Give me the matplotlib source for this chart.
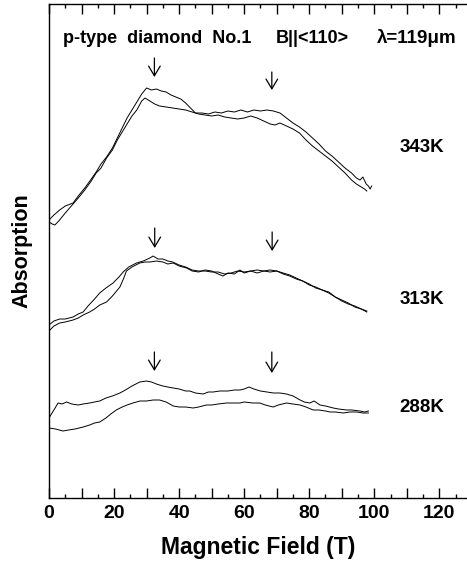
import matplotlib
matplotlib.use('Agg')
import matplotlib.pyplot as plt
from matplotlib.ticker import MultipleLocator

plt.rcParams['font.family'] = ['Liberation Sans', 'DejaVu Sans']
plt.rcParams['font.weight'] = 'bold'

# absorption traces (arb. units), two sweeps per temperature
b_343_a = [0, 1.5, 3.3, 5, 7.4, 9, 11, 13, 14.5, 16, 17.7, 19.5, 21, 22.5, 24, 25.5, 27, 28.5, 30,
           31.5, 33, 34.5, 36, 37.5, 39, 40.5, 42, 43.5, 45, 47, 49, 51, 53, 55, 57, 59, 61, 63, 65,
           67, 69, 71, 73, 75, 77, 79, 81, 83, 85, 87, 89, 91, 93, 94.5, 95.6, 96.5, 97.5, 98.2, 98.7, 99.2]
abs_343_a = [278, 283, 288, 292, 295, 302, 310, 319, 326, 334, 341, 350, 360, 370, 380, 388, 396, 404, 410,
             408, 409, 407, 406, 403, 401, 399, 395, 390, 385, 385, 384, 386, 385, 387, 386, 388, 386, 388, 387,
             388, 387, 385, 380, 375, 371, 366, 360, 354, 347, 342, 336, 330, 325, 320, 318, 321, 314, 312, 309, 312]
b_343_b = [0, 1, 1.8, 3, 5, 7.4, 9, 11, 13, 14.5, 16, 17.7, 19.5, 21, 22.5, 24, 25.5, 27, 28.5, 29.5,
           31, 32.5, 34, 36, 38, 40, 42, 44, 46, 48, 50, 52, 54, 56, 58, 60, 62, 64, 66, 68, 69.5, 71,
           73, 75, 77, 79, 81, 83, 85, 87, 89, 91, 93, 94.5, 96, 97, 97.7]
abs_343_b = [276, 274, 273, 277, 285, 294, 300, 308, 317, 325, 330, 340, 348, 358, 366, 374, 382, 388, 397, 400,
             397, 394, 392, 391, 390, 389, 388, 386, 384, 383, 382, 383, 381, 380, 379, 380, 382, 380, 377, 374, 373, 375,
             372, 369, 365, 358, 352, 347, 342, 337, 331, 325, 318, 314, 311, 309, 307]

b_313_a = [0, 1.5, 3.3, 5, 7.4, 9, 10.5, 12, 14, 15.6, 17.5, 19.7, 21.5, 22.8, 24.5, 26.9, 29, 31, 32,
           33.5, 35, 36.5, 38, 40, 42, 44, 46, 48, 50, 52, 54, 56, 58, 60, 62, 64, 66, 68, 70, 72, 74,
           76, 78, 80, 82, 84, 86, 88, 90, 92, 94, 96, 97.7]
abs_313_a = [173, 177, 179, 179, 181, 184, 186, 192, 199, 205, 210, 215, 221, 226, 231, 235, 237, 240, 242,
             239, 239, 237, 236, 233, 231, 228, 227, 227, 226, 226, 224, 225, 227, 226, 227, 228, 227, 228, 227, 225, 223,
             220, 217, 214, 210, 208, 205, 201, 198, 195, 191, 189, 186]
b_313_b = [0, 1.5, 3.3, 5, 7.4, 9, 10.5, 12.5, 14, 15.6, 17.7, 19.5, 21.8, 23, 23.8, 25.5, 27.9, 29.5, 31,
           33, 35, 36.5, 38.2, 40, 42.3, 44, 46, 48, 50, 52, 53.5, 55, 57, 58.7, 60, 62, 64, 66, 68, 70,
           72, 74, 76, 78, 80, 82, 84, 86, 88, 90, 92, 94, 96, 97.7]
abs_313_b = [167, 172, 175, 176, 178, 180, 183, 186, 189, 193, 196, 202, 211, 220, 227, 231, 235, 236, 236,
             237, 236, 234, 235, 232, 230, 227, 226, 228, 227, 224, 222, 225, 224, 228, 225, 227, 225, 227, 226, 227,
             224, 222, 219, 217, 213, 211, 208, 206, 201, 197, 194, 192, 189, 187]

b_288_a = [0, 1.5, 2.8, 4, 5.4, 7, 9, 10.5, 12.5, 14, 15.6, 17.5, 19.5, 21.8, 23.5, 25.5, 27.9, 30, 31.5,
           33, 35, 36.5, 38.2, 40, 42, 43.3, 45, 47.4, 49, 50.5, 52.5, 55, 57, 58.7, 60, 61.5, 63, 65, 67,
           69, 71, 73, 75, 77.2, 78.5, 80.2, 81.5, 83.3, 85, 87.4, 89, 91.5, 93, 95.6, 97, 98.2]
abs_288_a = [80, 88, 95, 94, 96, 94, 93, 94, 95, 96, 97, 100, 102, 105, 108, 112, 116, 117, 116,
             114, 112, 111, 110, 109, 107, 107, 105, 104, 106, 106, 107, 107, 108, 108, 109, 111, 109, 107, 106,
             105, 105, 104, 102, 98, 96, 95, 97, 93, 92, 90, 89, 88, 88, 87, 86, 87]
b_288_b = [0, 2, 4.3, 6, 8, 10.5, 12.5, 14, 15.6, 17.5, 19, 20.7, 22.5, 24, 25.8, 28, 30, 32, 34, 36,
           38.2, 40, 42, 44.3, 46, 48.4, 50, 52, 54.6, 56.5, 58.7, 60, 62.7, 64.8, 66.5, 68.9, 70.5, 73,
           75, 77.2, 79, 81.2, 83, 85, 86.4, 88, 90.5, 92.5, 94.6, 96.5, 98.2]
abs_288_b = [70, 69, 67, 68, 69, 71, 73, 75, 76, 80, 84, 88, 91, 93, 95, 97, 97, 98, 98, 96,
             92, 91, 91, 90, 91, 93, 93, 94, 95, 95, 95, 96, 95, 95, 93, 91, 93, 95,
             94, 93, 91, 88, 88, 87, 86, 86, 85, 86, 86, 85, 85]

temps = ['343K', '313K', '288K']
temp_label_y = [351, 198, 90]
# arrow markers: field position, tail and tip level
arrow_b = [32.4, 68.5, 32.5, 68.6, 32.4, 68.5]
arrow_tail = [440, 426, 270, 266, 146, 146]
arrow_tip = [421, 408, 250, 247, 127, 125]

fig = plt.figure(figsize=(4.67, 5.67), dpi=100)
ax = fig.add_axes([49 / 467, 69 / 567, 1 - 49 / 467, 494 / 567])

for b, a in [(b_343_a, abs_343_a), (b_343_b, abs_343_b), (b_313_a, abs_313_a),
             (b_313_b, abs_313_b), (b_288_a, abs_288_a), (b_288_b, abs_288_b)]:
    ax.plot(b, a, color='black', lw=0.7)

for t, y in zip(temps, temp_label_y):
    ax.text(114.7, y, t, fontsize=13.5, fontweight='bold', ha='center', va='center')

for x, y0, y1 in zip(arrow_b, arrow_tail, arrow_tip):
    ax.annotate('', xy=(x, y1), xytext=(x, y0),
                arrowprops=dict(arrowstyle='->,head_length=0.5,head_width=0.3',
                                lw=0.9, color='black', mutation_scale=14, shrinkA=0, shrinkB=0))

ax.text(4.2, 455, 'p-type  diamond  No.1', fontsize=13, fontweight='bold', ha='left', va='baseline')
ax.text(69.8, 455, 'B||<110>', fontsize=13, fontweight='bold', ha='left', va='baseline')
ax.text(125.4, 455, 'λ=119μm', fontsize=13.5, fontweight='bold', ha='right', va='baseline')

ax.set_xlim(0, 128.5)
ax.set_ylim(0, 494)
ax.set_yticks([])
ax.xaxis.set_minor_locator(MultipleLocator(5))
ax.xaxis.set_major_locator(MultipleLocator(10))
ax.set_xticklabels([])
ax.tick_params(axis='x', which='both', direction='in', top=True, bottom=True)
ax.tick_params(axis='x', which='major', length=7, width=1)
ax.tick_params(axis='x', which='minor', length=3, width=1)
ax.spines['right'].set_visible(False)
for s in ['left', 'bottom', 'top']:
    ax.spines[s].set_linewidth(1)

for v in [0, 20, 40, 60, 80, 100, 120]:
    ax.text(v, -15, str(v), fontsize=14, fontweight='bold', ha='center', va='center')

ax.set_xlabel('Magnetic Field (T)', fontsize=16.5, fontweight='bold', labelpad=24)
ax.set_ylabel('Absorption', fontsize=15.5, fontweight='bold', labelpad=12)

fig.savefig('out.png', dpi=100)
